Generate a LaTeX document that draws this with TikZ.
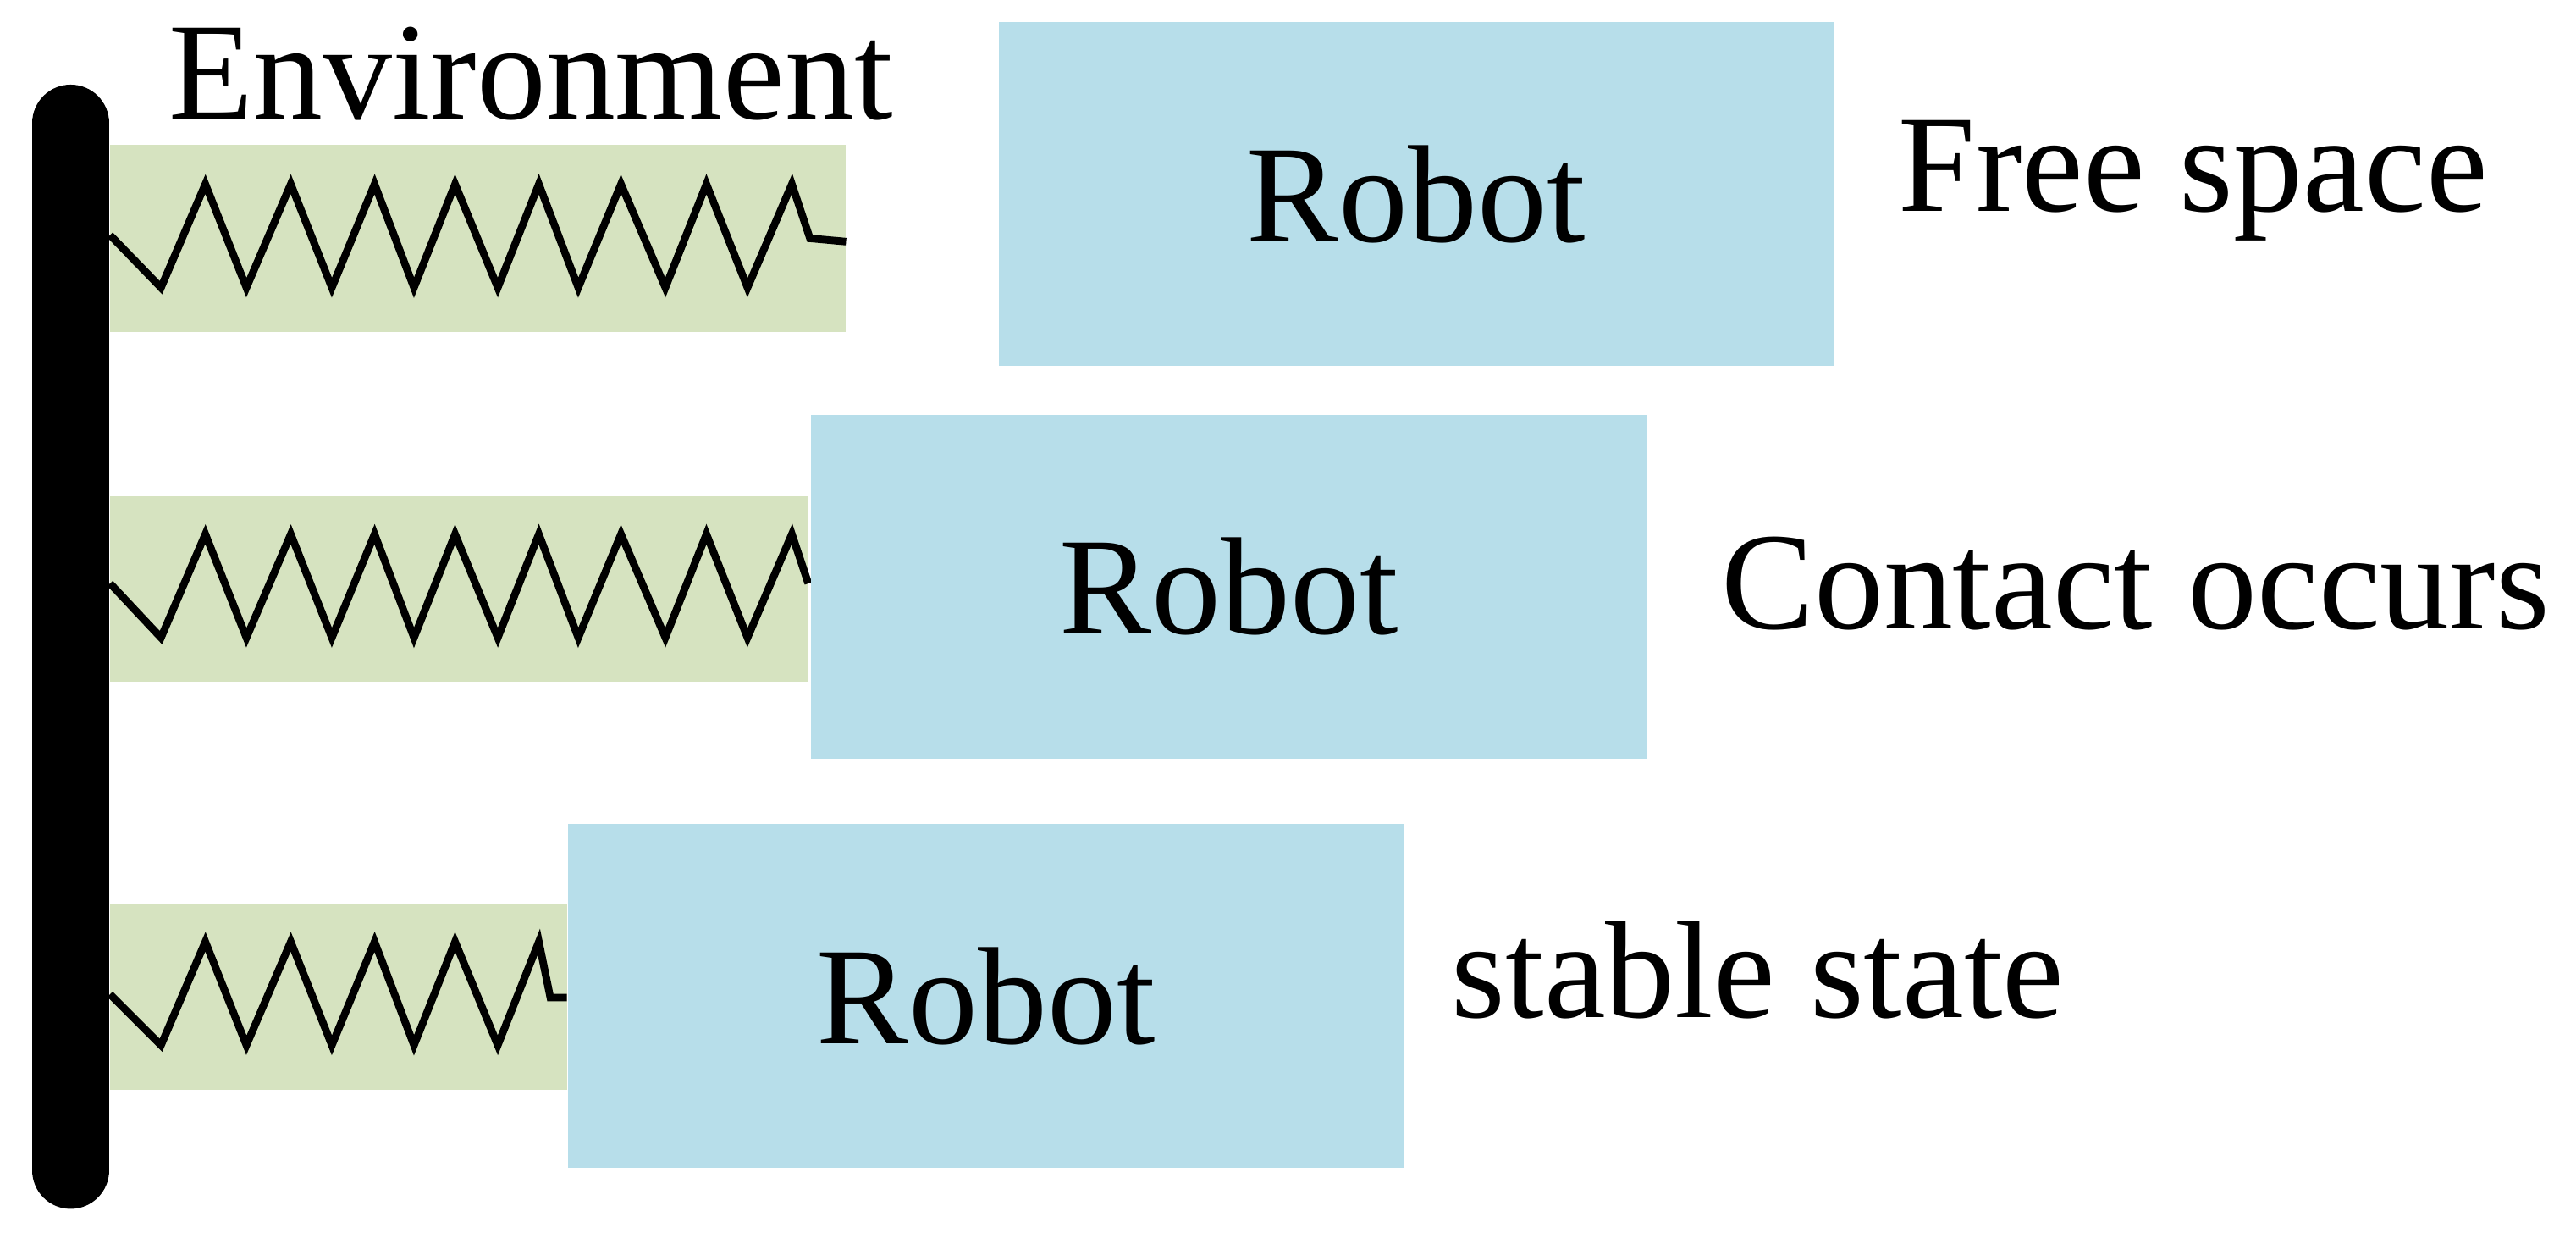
\documentclass[tikz,border=0pt]{standalone}
\usepackage{fontspec}
\setmainfont{Liberation Serif}
\begin{document}
\begin{tikzpicture}[x=0.01cm,y=-0.01cm,
  robot/.style={fill={rgb,255:red,183;green,222;blue,234},draw=none,minimum width=5.08cm,minimum height=2.09cm,inner sep=0pt,font=\fontsize{24}{28}\selectfont},
  gbox/.style={fill={rgb,255:red,214;green,227;blue,192},draw=none},
  spring/.style={line width=1.3pt,line join=miter,black},
  lbl/.style={font=\fontsize{24}{28}\selectfont,inner sep=0pt}]
\useasboundingbox (0,0) rectangle (1568,750);
% bar
\draw[line width=0.47cm,line cap=round] (43,75) -- (43,712);
\node[lbl] (env) at (323,45) {Environment};
% row 1
\fill[gbox] (67,88) rectangle (515,202);
\draw[spring] (67,143) -- (98,175) -- (125,112) -- (150,175) -- (177,112) -- (202,175) -- (228,112) -- (252,175) -- (277,112) -- (303,175) -- (328,112) -- (352,175) -- (378,112) -- (405,175) -- (430,112) -- (455,175) -- (482,112) -- (493,145) -- (515,147);
\node[robot] (r1) at (862,118) {Robot};
\node[lbl] (t1) at (1335,110) {Free space};
% row 2
\fill[gbox] (67,302) rectangle (492,415);
\draw[spring] (67,355) -- (98,388) -- (125,325) -- (150,388) -- (177,325) -- (202,388) -- (228,325) -- (252,388) -- (277,325) -- (303,388) -- (328,325) -- (352,388) -- (378,325) -- (405,388) -- (430,325) -- (455,388) -- (482,325) -- (492,355);
\node[robot] (r2) at (748,357) {Robot};
\node[lbl] (t2) at (1300,355) {Contact occurs};
% row 3
\fill[gbox] (67,550) rectangle (345,663);
\draw[spring] (67,605) -- (98,636) -- (125,573) -- (150,636) -- (177,573) -- (202,636) -- (228,573) -- (252,636) -- (277,573) -- (303,636) -- (328,573) -- (335,607) -- (345,607);
\node[robot] (r3) at (600,606) {Robot};
\node[lbl] (t3) at (1070,590) {stable state};
\end{tikzpicture}
\end{document}
